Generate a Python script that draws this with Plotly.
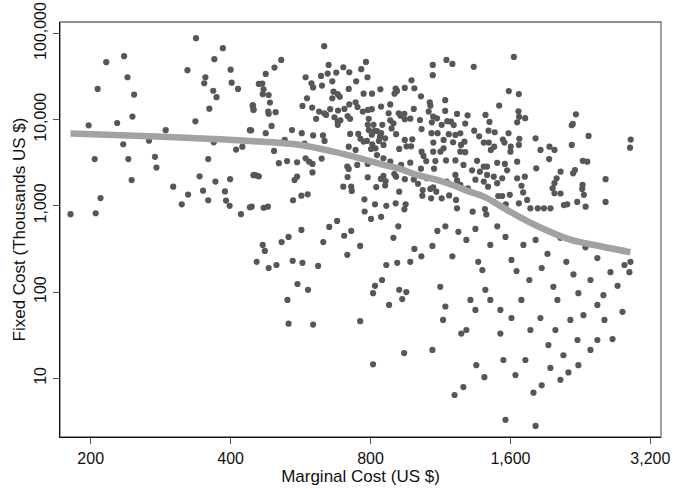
import plotly.graph_objects as go

# ---- data (Marginal Cost US $, Fixed Cost thousands US $) ----
marginal_cost = [
    # left region
    337, 385, 216, 236, 369, 323, 400, 240, 353, 207, 351, 402, 367, 415, 248, 373, 460, 360, 447, 448,
    246, 336, 198, 228, 290, 440, 267, 235, 368, 424, 411, 204, 241, 275, 358, 277, 448, 455, 245, 343,
    371, 399, 301, 349, 389, 324, 210, 358, 391, 398, 314, 440, 181, 205, 421,
    # middle region
    636, 514, 1165, 497, 476, 650, 782, 699, 720, 764, 675, 1089, 788, 647, 626, 580, 597, 602, 629, 662,
    745, 1089, 980, 468, 906, 718, 948, 994, 840, 471, 469, 483, 666, 680, 687, 662, 773, 806, 901, 912,
    1027, 1073, 1158, 584, 486, 446, 448, 482, 483, 500, 571, 599, 620, 636, 655, 681, 703, 720, 743, 750,
    770, 790, 805, 843, 882, 920, 946, 991, 875, 1076, 1067, 1091, 1158, 611, 642, 669, 680, 689, 714, 723,
    793, 882, 896, 928, 948, 974, 1022, 1112, 1084, 812, 848, 490, 542, 569, 602, 632, 680, 443, 476, 523,
    793, 826, 805, 838, 860, 786, 723, 753, 761, 888, 908, 948, 984, 1030, 1082, 1115, 1092, 1149, 1179, 577,
    637, 718, 743, 773, 807, 820, 853, 922, 956, 978, 1030, 1040, 1091, 1131, 1149, 496, 508, 529, 556, 580,
    590, 600, 628, 713, 718, 749, 789, 853, 882, 931, 974, 1027, 1054, 1103, 1163, 1096, 450, 460, 600, 714,
    789, 842, 853, 862, 900, 908, 948, 991, 1058, 1012, 1091, 1166, 556, 549, 699, 727, 729, 823, 860, 922,
    1036, 1076, 1108, 545, 568, 586, 776, 818, 865, 906, 952, 946, 1034, 1080, 1138, 1181, 471, 481, 444, 777,
    789, 815, 834, 802, 843, 826, 1138, 1170,
    # right region
    1200, 1334, 1627, 1587, 1668, 1513, 1665, 1228, 1294, 1414, 1442, 1670, 1721, 1654, 2213, 2179, 2168, 1279, 1192, 1208,
    1218, 1248, 1337, 1435, 1480, 1585, 1541, 1370, 1274, 1252, 1204, 1402, 1437, 1672, 1668, 1812, 1553, 1602, 1452, 1476,
    1248, 1279, 1600, 1857, 1941, 1990, 1938, 2168, 2356, 2903, 2893, 1218, 1268, 1356, 1402, 1425, 1498, 1556, 1654, 1574,
    1375, 1323, 1345, 1402, 1425, 1432, 1473, 1536, 1498, 1654, 1718, 1818, 2051, 2011, 1990, 1971, 1990, 2051, 2290, 2341,
    2202, 2182, 2563, 2287, 2283, 2302, 1228, 1218, 1248, 1296, 1690, 1704, 1595, 1536, 1506, 1738, 1668, 1563, 1766, 1832,
    1889, 1951, 2085, 2120, 2227, 2322, 2563, 1222, 1228, 1327, 1410, 1473, 1420,
    # lower middle region
    469, 474, 455, 483, 502, 533, 568, 515, 544, 571, 557, 530, 587, 617, 633, 652, 678, 702, 727, 713,
    760, 802, 843, 918, 896, 865, 847, 913, 974, 994, 1029, 1087, 1114, 1159, 922, 936, 955, 877, 818, 810,
    1130, 1200, 1236, 1286, 1345, 760, 602, 533, 945, 810, 1087, 1254, 1286, 1146, 1159, 1213, 1267, 1406, 1351, 1522,
    # lower right region
    1364, 1392, 1448, 1499, 1561, 1608, 1649, 1706, 1757, 1812, 1868, 1922, 1979, 2019, 2049, 2110, 2186, 2240, 2320, 2378,
    2461, 2536, 2626, 2720, 2815, 2884, 2899, 1448, 1522, 1608, 1689, 1766, 1856, 1931, 1999, 2080, 2153, 2230, 2297, 2378,
    2461, 2549, 2653, 2787, 1545, 1640, 1723, 1793, 1868, 1950, 2049, 2132, 2240, 2461, 1561, 1812, 1312, 1345, 1413,
]
fixed_cost = [
    88000, 67300, 46400, 54400, 50200, 37400, 37900, 31000, 31000, 22700, 26400, 26800, 21600, 22700, 19500, 18200, 25900, 13400, 14700, 13200,
    10830, 9550, 8590, 9130, 7550, 7550, 5700, 5180, 5450, 4860, 4490, 3490, 3490, 3700, 3490, 2780, 2270, 2240, 1990, 2200,
    1910, 2040, 1670, 1500, 1470, 1350, 1230, 1160, 1150, 1000, 1040, 960, 800, 820, 800,
    71000, 49200, 49200, 40100, 33900, 43100, 46700, 40500, 35400, 38400, 35100, 43100, 31000, 34200, 32100, 31000, 26400, 23600, 24800, 27800,
    27800, 32800, 28600, 26200, 22900, 22700, 23300, 23100, 22500, 22500, 19700, 19300, 21100, 19700, 18400, 17700, 20000, 20000, 20000, 21500,
    18600, 15900, 16800, 17700, 15800, 14500, 12950, 12400, 11700, 12200, 14400, 13800, 12400, 11850, 13200, 12750, 13300, 15000, 15900, 14000,
    12400, 12950, 13200, 14150, 15000, 11850, 11700, 13300, 11850, 14500, 12400, 10840, 12600, 10200, 11330, 10650, 9470, 9800, 11000, 10200,
    10200, 9800, 9070, 11100, 10100, 10250, 9900, 10350, 9310, 8700, 8700, 8450, 7570, 6960, 6550, 6550, 8700, 7510, 6960, 5840,
    7570, 7380, 6670, 6340, 6060, 5660, 6830, 6830, 6000, 7900, 6770, 5810, 5910, 7760, 6960, 6960, 5420, 5810, 6770, 5280,
    5660, 4860, 4450, 5560, 5170, 4650, 5080, 4570, 4900, 4900, 4250, 3790, 4250, 4250, 4650, 4330, 3120, 3300, 3200, 3560,
    3250, 3060, 3530, 2850, 2680, 2980, 3060, 3560, 3250, 2980, 3170, 2700, 3300, 3300, 3360, 2700, 2280, 2200, 2440, 2160,
    2140, 2050, 2220, 1940, 2340, 2180, 2040, 2020, 2090, 1800, 1640, 1910, 2180, 1990, 1670, 1670, 1490, 1650, 1720, 1460,
    1527, 1570, 1460, 1160, 1310, 1360, 1190, 1040, 1000, 1070, 1040, 910, 1310, 1222, 1222, 1320, 950, 978, 978, 860,
    8700, 7380, 5660, 4560, 6960, 3880, 8700, 9600,
    44200, 40900, 53300, 21400, 19800, 14550, 12500, 11630, 11220, 11330, 9400, 10760, 10380, 9310, 11530, 8900, 8600, 8990, 9470, 8650,
    6640, 6950, 7450, 7450, 7130, 6950, 5860, 6400, 5550, 5080, 5460, 5420, 5420, 6000, 5080, 6060, 5420, 4860, 4450, 4860,
    4250, 4190, 4250, 4450, 4860, 4450, 3490, 5080, 6460, 5860, 4730, 3360, 2980, 3330, 2850, 2850, 3150, 3060, 3250, 2580,
    2490, 2580, 2010, 1910, 2280, 1670, 2180, 2090, 1830, 2090, 2180, 2720, 2490, 2090, 1830, 1600, 1400, 1390, 3330, 3250,
    2600, 2380, 2040, 1750, 1570, 1340, 1980, 2280, 1750, 1600, 1710, 1430, 1340, 1300, 1300, 1170, 1070, 1040, 935, 935,
    935, 935, 1020, 1040, 1110, 978, 1110, 1170, 935, 855, 918, 1110, 795,
    352, 300, 224, 190, 206, 436, 525, 380, 230, 218, 124, 81, 106, 201, 380, 570, 668, 450, 511, 270,
    343, 705, 745, 579, 425, 206, 138, 218, 224, 316, 260, 343, 511, 579, 106, 83, 100, 71, 118, 97,
    115, 260, 500, 402, 540, 46, 42, 43, 19.6, 14.5, 21.3, 33, 36.3, 47.5, 68, 6.4, 7.9, 10.3, 14.2, 33,
    224, 180, 352, 579, 436, 236, 175, 352, 138, 402, 190, 277, 115, 81, 425, 224, 160, 97, 330, 138,
    248, 92, 170, 118, 206, 170, 224, 81, 62, 50, 81, 36.3, 50, 24.3, 36.3, 18.5, 47.5, 27.8, 54, 21.3,
    71, 47.5, 28.5, 59, 16.3, 10.9, 16.3, 6.8, 8.3, 13.2, 9.6, 11.7, 14.2, 27.8, 3.3, 2.8, 81, 62, 106,
]

# smoothed fit line
fit_cost_x = [181, 250, 330, 441, 565, 666, 760, 853, 927, 1007, 1112, 1188, 1312, 1402, 1600, 1856, 2153, 2498, 2899]
fit_cost_y = [6900, 6500, 6100, 5660, 5080, 4250, 3560, 2980, 2680, 2280, 2000, 1780, 1450, 1280, 850, 560, 405, 340, 290]

x_tick_vals = [200, 400, 800, 1600, 3200]
x_tick_text = ["200", "400", "800", "1,600", "3,200"]
y_tick_vals = [10, 100, 1000, 10000, 100000]
y_tick_text = ["10", "100", "1,000", "10,000", "100,000"]

FONT = "Liberation Sans, Arial, sans-serif"

fig = go.Figure()
fig.add_trace(go.Scatter(
    x=marginal_cost, y=fixed_cost, mode="markers",
    marker=dict(size=6.2, color="#575757", line=dict(width=0)),
    hoverinfo="skip", showlegend=False,
))
fig.add_trace(go.Scatter(
    x=fit_cost_x, y=fit_cost_y, mode="lines",
    line=dict(color="#a2a2a2", width=6.5, shape="spline", smoothing=1.0),
    hoverinfo="skip", showlegend=False,
))

fig.update_layout(
    width=673, height=489, autosize=False,
    margin=dict(l=60, r=12, t=22, b=52),
    paper_bgcolor="white", plot_bgcolor="white",
    font=dict(family=FONT, size=16, color="#111"),
    shapes=[dict(type="rect", xref="paper", yref="paper", x0=0, y0=0, x1=1, y1=1,
                 line=dict(color="#6e6e6e", width=1.3), layer="below")],
)
fig.update_xaxes(
    type="log", range=[2.235, 3.528], automargin=False,
    tickvals=x_tick_vals, ticktext=x_tick_text,
    ticks="outside", ticklen=6, tickwidth=1, tickcolor="#555",
    showgrid=False, zeroline=False,
    showline=True, linecolor="#111", linewidth=1.4,
    tickfont=dict(size=16),
    title=dict(text="Marginal Cost (US $)", font=dict(size=17), standoff=2),
)
fig.update_yaxes(
    type="log", range=[0.319, 5.132], automargin=False,
    tickvals=y_tick_vals, ticktext=y_tick_text, tickangle=-90,
    ticks="outside", ticklen=6, tickwidth=1, tickcolor="#555",
    showgrid=False, zeroline=False,
    showline=True, linecolor="#111", linewidth=1.4,
    tickfont=dict(size=16),
    title=dict(text="Fixed Cost (Thousands US $)", font=dict(size=17), standoff=2),
)

fig.write_html(
    "out.html",
    config={"displayModeBar": False, "staticPlot": True},
    post_script="document.body.style.margin='0px';document.body.style.overflow='hidden';",
)
